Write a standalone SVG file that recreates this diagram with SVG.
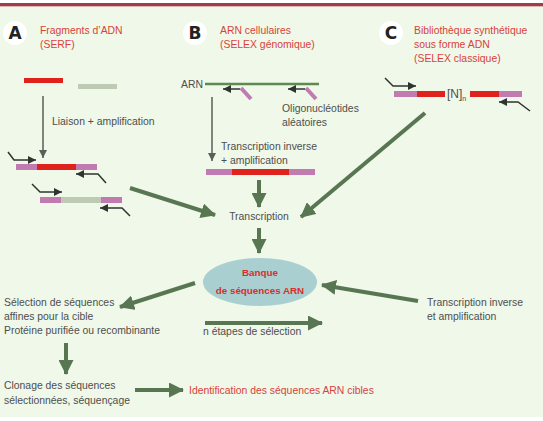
<svg xmlns="http://www.w3.org/2000/svg" width="543" height="421" viewBox="0 0 543 421">
<defs>
<style>
.t{font-family:"Liberation Sans",Arial,sans-serif;font-size:10.4px;fill:#4e4e4e}
.r{font-family:"Liberation Sans",Arial,sans-serif;font-size:10.4px;fill:#d8423b}
.rb{font-family:"Liberation Sans",Arial,sans-serif;font-size:9.8px;font-weight:bold;fill:#d92e2a;text-anchor:middle}
.let{font-family:"DejaVu Sans",sans-serif;font-size:17px;font-weight:bold;fill:#222;text-anchor:middle}
.big{stroke:#587652;stroke-width:4;fill:none;marker-end:url(#bh)}
.thin{stroke:#5a5f58;stroke-width:1.5;fill:none;marker-end:url(#th)}
.pr{stroke:#2f3430;stroke-width:1.5;fill:none;marker-end:url(#ph)}
.pk{fill:#c27bb0}
.rd{fill:#e0221c}
.gy{fill:#bfcab4}
</style>
<marker id="bh" markerUnits="userSpaceOnUse" markerWidth="15" markerHeight="15" viewBox="0 0 15 15" refX="14" refY="7.5" orient="auto"><path d="M0,0 L15,7.5 L0,15 z" fill="#587652"/></marker>
<marker id="th" markerUnits="userSpaceOnUse" markerWidth="8" markerHeight="8" viewBox="0 0 8 8" refX="8" refY="4" orient="auto"><path d="M0,0 L8,4 L0,8 z" fill="#5a5f58"/></marker>
<marker id="ph" markerUnits="userSpaceOnUse" markerWidth="8" markerHeight="8" viewBox="0 0 8 8" refX="8" refY="4" orient="auto"><path d="M0,0 L8,4 L0,8 z" fill="#2f3430"/></marker>
</defs>
<rect x="0" y="0" width="543" height="421" fill="#ffffff"/>
<rect x="0" y="4" width="543" height="413" fill="#eff8e9"/>
<rect x="0" y="3" width="543" height="3" fill="#9e3e4b"/>
<rect x="0" y="6" width="543" height="1" fill="#d8b8b8"/>

<g id="panelA">
<circle cx="15" cy="33" r="12" fill="#ffffff"/>
<text class="let" x="15" y="39">A</text>
<text class="r" x="40" y="34">Fragments d’ADN</text>
<text class="r" x="40" y="48">(SERF)</text>
<rect class="rd" x="24" y="78" width="39" height="5"/>
<rect class="gy" x="78" y="84" width="39" height="5"/>
<text class="t" x="52" y="125">Liaison + amplification</text>
</g>
<g id="barA1">
<rect class="pk" x="16" y="164" width="21" height="6"/>
<rect class="rd" x="37" y="164" width="39" height="6"/>
<rect class="pk" x="76" y="164" width="21" height="6"/>
</g>
<g id="barA2">
<rect class="pk" x="40" y="197" width="21" height="6"/>
<rect class="gy" x="61" y="197" width="40" height="6"/>
<rect class="pk" x="101" y="197" width="21" height="6"/>
</g>

<g id="panelB">
<circle cx="195" cy="33" r="12" fill="#ffffff"/>
<text class="let" x="195" y="39">B</text>
<text class="r" x="220" y="34">ARN cellulaires</text>
<text class="r" x="220" y="48">(SELEX génomique)</text>
<text class="t" x="181" y="88">ARN</text>
<line x1="205" y1="84" x2="319" y2="84" stroke="#5d8a4f" stroke-width="2.5"/>
<line x1="241" y1="88" x2="251" y2="99" stroke="#c27bb0" stroke-width="4"/>
<line x1="306" y1="88" x2="316" y2="99" stroke="#c27bb0" stroke-width="4"/>
<text class="t" x="282" y="112">Oligonucléotides</text>
<text class="t" x="282" y="126">aléatoires</text>
<text class="t" x="221" y="150">Transcription inverse</text>
<text class="t" x="221" y="164">+ amplification</text>
</g>
<g id="barB">
<rect class="pk" x="206" y="169" width="26" height="6"/>
<rect class="rd" x="232" y="169" width="57" height="6"/>
<rect class="pk" x="289" y="169" width="26" height="6"/>
</g>

<g id="panelC">
<circle cx="391" cy="33" r="12" fill="#ffffff"/>
<text class="let" x="391" y="39">C</text>
<text class="r" x="414" y="34">Bibliothèque synthétique</text>
<text class="r" x="414" y="48">sous forme ADN</text>
<text class="r" x="414" y="62">(SELEX classique)</text>
<rect class="pk" x="394" y="91" width="23" height="6"/>
<rect class="rd" x="417" y="91" width="28" height="6"/>
<text class="t" x="447" y="98" style="font-size:12px">[N]<tspan style="font-size:7px" dy="3">n</tspan></text>
<rect class="rd" x="470" y="91" width="29" height="6"/>
<rect class="pk" x="499" y="91" width="23" height="6"/>
</g>

<g id="transcription">
<text class="t" x="259" y="220" text-anchor="middle">Transcription</text>
</g>

<g id="banque">
<ellipse cx="260" cy="282" rx="57" ry="24" fill="#a9cfd1"/>
<text class="rb" x="260" y="276">Banque</text>
<text class="rb" x="260" y="294">de séquences ARN</text>
</g>

<g id="selection">
<text class="t" x="4" y="306">Sélection de séquences</text>
<text class="t" x="4" y="320">affines pour la cible</text>
<text class="t" x="4" y="334">Protéine purifiée ou recombinante</text>
</g>
<g id="etapes">
<text class="t" x="203" y="335">n étapes de sélection</text>
</g>
<g id="transinv">
<text class="t" x="427" y="306">Transcription inverse</text>
<text class="t" x="427" y="320">et amplification</text>
</g>
<g id="clonage">
<text class="t" x="4" y="389">Clonage des séquences</text>
<text class="t" x="4" y="404">sélectionnées, séquençage</text>
</g>
<g id="identification">
<text class="r" x="189" y="394">Identification des séquences ARN cibles</text>
</g>

<g id="connectors">
<line class="big" x1="130" y1="188" x2="215" y2="215"/>
<line class="big" x1="425" y1="113" x2="301" y2="217"/>
<line class="big" x1="259" y1="180" x2="259" y2="207"/>
<line class="big" x1="259" y1="228" x2="259" y2="253"/>
<line class="big" x1="195" y1="283" x2="120" y2="307"/>
<line class="big" x1="205" y1="323" x2="322" y2="323"/>
<line class="big" x1="418" y1="301" x2="322" y2="285"/>
<line class="big" x1="66" y1="343" x2="66" y2="374"/>
<line class="big" x1="135" y1="390" x2="183" y2="390"/>
<line class="thin" x1="43" y1="96" x2="43" y2="158"/>
<line class="thin" x1="212" y1="97" x2="212" y2="161"/>
<polyline class="pr" points="8,152 14,160 36,160"/>
<polyline class="pr" points="106,183 98,174 76,174"/>
<polyline class="pr" points="32,184 40,192 62,192"/>
<polyline class="pr" points="130,216 122,208 100,208"/>
<line class="pr" x1="240" y1="89" x2="223" y2="89"/>
<line class="pr" x1="305" y1="89" x2="288" y2="89"/>
<polyline class="pr" points="385,78 393,86 416,86"/>
<polyline class="pr" points="530,111 518,102 499,102"/>
</g>
</svg>
